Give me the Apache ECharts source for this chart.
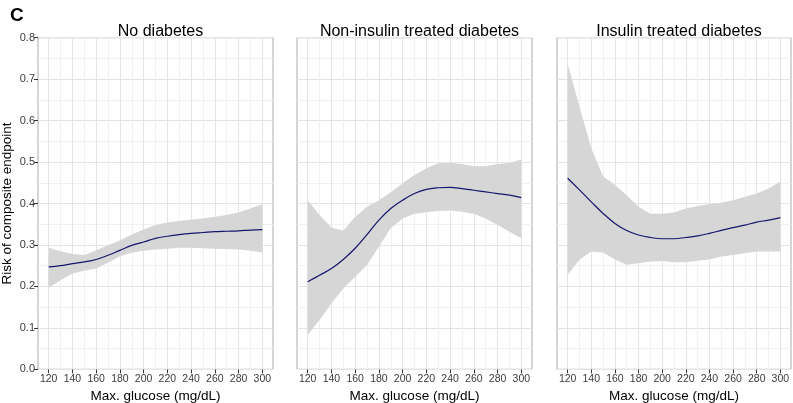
<!DOCTYPE html>
<html>
<head>
<meta charset="utf-8">
<script src="https://cdn.jsdelivr.net/npm/echarts@6/dist/echarts.min.js"></script>
<style>
html,body{margin:0;padding:0;background:#fff;}
#chart{width:793px;height:403px;}
</style>
</head>
<body>
<div id="chart"></div>
<script>
// ---- data ----
const panelTitles = ['No diabetes', 'Non-insulin treated diabetes', 'Insulin treated diabetes'];
const glucose = [120, 130, 140, 150, 160, 170, 180, 190, 200, 210, 220, 230, 240, 250, 260, 270, 280, 290, 300];
const xTickLabels = [120, 140, 160, 180, 200, 220, 240, 260, 280, 300];
const xMinorGrid = [130, 150, 170, 190, 210, 230, 250, 270, 290];

const noDiabFit   = [0.247, 0.250, 0.255, 0.259, 0.265, 0.275, 0.287, 0.299, 0.307, 0.316, 0.321, 0.325, 0.328, 0.330, 0.332, 0.333, 0.334, 0.336, 0.337];
const noDiabUpper = [0.293, 0.285, 0.278, 0.276, 0.287, 0.299, 0.311, 0.325, 0.337, 0.348, 0.354, 0.358, 0.361, 0.364, 0.368, 0.372, 0.378, 0.388, 0.398];
const noDiabLower = [0.197, 0.215, 0.231, 0.238, 0.243, 0.257, 0.273, 0.281, 0.286, 0.289, 0.291, 0.293, 0.293, 0.292, 0.291, 0.290, 0.289, 0.286, 0.282];

const nonInsFit   = [0.211, 0.227, 0.243, 0.265, 0.292, 0.325, 0.360, 0.388, 0.408, 0.424, 0.434, 0.438, 0.439, 0.436, 0.432, 0.428, 0.424, 0.420, 0.414];
const nonInsUpper = [0.408, 0.372, 0.342, 0.334, 0.368, 0.392, 0.408, 0.427, 0.449, 0.469, 0.485, 0.497, 0.498, 0.495, 0.490, 0.490, 0.495, 0.498, 0.506];
const nonInsLower = [0.083, 0.119, 0.159, 0.195, 0.223, 0.251, 0.296, 0.340, 0.364, 0.375, 0.379, 0.382, 0.383, 0.380, 0.375, 0.364, 0.348, 0.332, 0.316];

const insFit   = [0.461, 0.433, 0.404, 0.376, 0.352, 0.335, 0.324, 0.318, 0.315, 0.315, 0.318, 0.322, 0.328, 0.335, 0.342, 0.348, 0.355, 0.360, 0.366];
const insUpper = [0.738, 0.634, 0.533, 0.465, 0.445, 0.420, 0.392, 0.375, 0.375, 0.378, 0.388, 0.394, 0.399, 0.402, 0.408, 0.416, 0.424, 0.436, 0.453];
const insLower = [0.228, 0.264, 0.284, 0.282, 0.265, 0.252, 0.256, 0.260, 0.261, 0.258, 0.258, 0.262, 0.265, 0.272, 0.276, 0.280, 0.284, 0.284, 0.284];

const panels = [
  {fit: noDiabFit, upper: noDiabUpper, lower: noDiabLower},
  {fit: nonInsFit, upper: nonInsUpper, lower: nonInsLower},
  {fit: insFit, upper: insUpper, lower: insLower}
];

// ---- layout ----
const gridPos = [
  {left: 38, width: 235},
  {left: 297, width: 235},
  {left: 557, width: 234}
];
const gridTop = 37.7, gridHeight = 331.6;
const FONT = 'Liberation Sans, Arial, Helvetica, sans-serif';

const chart = echarts.init(document.getElementById('chart'), null, {renderer: 'canvas'});

const grids = [], xAxes = [], yAxes = [], series = [], titles = [];

titles.push({
  text: 'C', left: 5, top: 1,
  textStyle: {fontFamily: FONT, fontSize: 19, fontWeight: 'bold', color: '#000'}
});

panels.forEach((p, i) => {
  grids.push({
    left: gridPos[i].left, width: gridPos[i].width, top: gridTop, height: gridHeight,
    outerBoundsMode: 'none', containLabel: false,
    show: true, borderColor: '#ababab', borderWidth: 1, backgroundColor: '#fff'
  });
  xAxes.push({
    type: 'value', gridIndex: i, min: 111, max: 309,
    axisLine: {show: false},
    axisTick: {show: true, length: 4, lineStyle: {color: '#333'}, customValues: xTickLabels},
    axisLabel: {customValues: xTickLabels, color: '#3a3a3a', fontSize: 10.5, fontFamily: FONT, margin: 4},
    splitLine: {show: false},
    name: 'Max. glucose (mg/dL)', nameLocation: 'middle', nameGap: 16,
    nameTextStyle: {fontFamily: FONT, fontSize: 13.5, color: '#000'}
  });
  yAxes.push({
    type: 'value', gridIndex: i, min: 0, max: 0.8, interval: 0.1,
    axisLine: {show: false},
    axisTick: {show: i === 0, length: 4, lineStyle: {color: '#333'}},
    axisLabel: {show: i === 0, color: '#3a3a3a', fontSize: 11, fontFamily: FONT, margin: 3,
      formatter: v => v.toFixed(1)},
    splitLine: {show: true, lineStyle: {color: '#e4e4e4', width: 1}},
    minorTick: {show: false, splitNumber: 2},
    minorSplitLine: {show: true, lineStyle: {color: '#f1f1f1', width: 1}},
    name: i === 0 ? 'Risk of composite endpoint' : '',
    nameLocation: 'middle', nameGap: 24,
    nameTextStyle: {fontFamily: FONT, fontSize: 13.5, color: '#000'}
  });
  titles.push({
    text: panelTitles[i],
    left: gridPos[i].left + gridPos[i].width / 2, top: 19,
    textAlign: 'center',
    textStyle: {fontFamily: FONT, fontSize: 16, fontWeight: 'normal', color: '#000'}
  });

  // vertical gridlines
  series.push({
    type: 'line', xAxisIndex: i, yAxisIndex: i, data: [], silent: true, z: 1,
    markLine: {
      silent: true, symbol: 'none', animation: false, z: 1,
      label: {show: false},
      data: xTickLabels.map(v => ({xAxis: v, lineStyle: {color: '#e4e4e4', width: 1, type: 'solid'}}))
        .concat(xMinorGrid.map(v => ({xAxis: v, lineStyle: {color: '#f1f1f1', width: 1, type: 'solid'}})))
    }
  });
  // confidence band as polygon through axis scales
  series.push({
    type: 'custom', xAxisIndex: i, yAxisIndex: i, silent: true, z: 2,
    data: glucose.map((x, k) => [x, p.lower[k], p.upper[k]]),
    encode: {x: 0, y: [1, 2]},
    renderItem: (params, api) => {
      if (params.dataIndex !== 0) return null;
      const pts = [];
      for (let k = 0; k < glucose.length; k++) pts.push(api.coord([glucose[k], p.upper[k]]));
      for (let k = glucose.length - 1; k >= 0; k--) pts.push(api.coord([glucose[k], p.lower[k]]));
      return {
        type: 'polygon',
        shape: {points: pts, smooth: 0},
        style: {fill: '#d6d6d6', stroke: null}
      };
    }
  });
  // fitted line
  series.push({
    type: 'line', xAxisIndex: i, yAxisIndex: i, silent: true, z: 3,
    symbol: 'none', smooth: 0.4,
    lineStyle: {color: '#16166e', width: 1.2},
    data: glucose.map((x, k) => [x, p.fit[k]])
  });
});

chart.setOption({
  animation: false,
  backgroundColor: '#fff',
  title: titles,
  grid: grids,
  xAxis: xAxes,
  yAxis: yAxes,
  series: series
});
</script>
</body>
</html>
